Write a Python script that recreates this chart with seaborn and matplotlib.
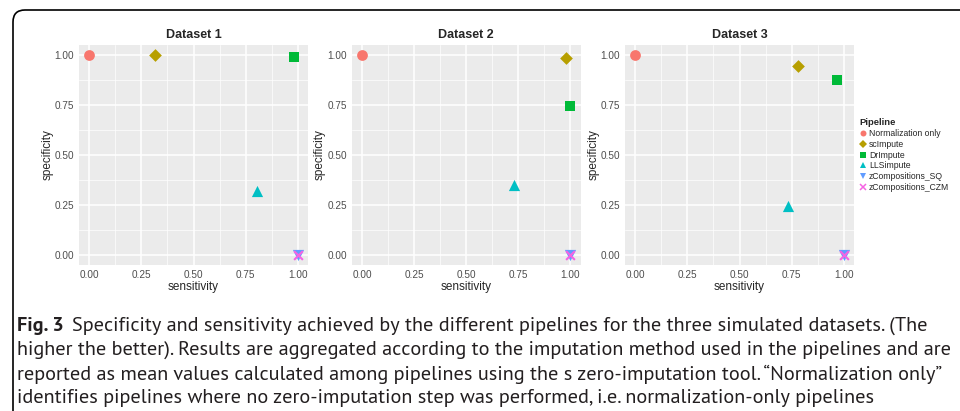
import pandas as pd
import matplotlib.pyplot as plt
import seaborn as sns
from matplotlib.patches import FancyBboxPatch
from matplotlib.lines import Line2D

# values
pipelines = ["Normalization only", "scImpute", "DrImpute", "LLSimpute",
             "zCompositions_SQ", "zCompositions_CZM"]
datasets = ["Dataset 1", "Dataset 2", "Dataset 3"]
sens_d1 = [0.0, 0.315, 0.984, 0.807, 1.0, 1.0]
spec_d1 = [1.0, 1.0, 0.99, 0.32, 0.0, 0.0]
sens_d2 = [0.0, 0.98, 0.997, 0.728, 1.0, 1.0]
spec_d2 = [1.0, 0.983, 0.747, 0.35, 0.0, 0.0]
sens_d3 = [0.0, 0.78, 0.969, 0.734, 1.0, 1.0]
spec_d3 = [1.0, 0.945, 0.876, 0.246, 0.0, 0.0]
ticks = [0.0, 0.25, 0.5, 0.75, 1.0]
tick_labels = ["0.00", "0.25", "0.50", "0.75", "1.00"]

colors = ["#F8766D", "#B79F00", "#00BA38", "#00BFC4", "#619CFF", "#F564E3"]
marks = ["o", "D", "s", "^", "v", "x"]
sizes = [60, 42, 55, 65, 65, 40]
palette = dict(zip(pipelines, colors))

frames = []
for name, sx, sy in zip(datasets, [sens_d1, sens_d2, sens_d3], [spec_d1, spec_d2, spec_d3]):
    frames.append(pd.DataFrame({"dataset": name, "Pipeline": pipelines,
                                "sensitivity": sx, "specificity": sy}))
df = pd.concat(frames, ignore_index=True)

sns.set_style("darkgrid", {"axes.facecolor": "#EBEBEB", "grid.color": "white"})
plt.rcParams["font.family"] = ["Liberation Sans", "DejaVu Sans"]

fig = plt.figure(figsize=(9.6, 4.11), dpi=100)
lefts = [79 / 960, 351.7 / 960, 625 / 960]
for i, name in enumerate(datasets):
    ax = fig.add_axes([lefts[i], 1 - 265 / 411, 229 / 960, 220 / 411])
    sub = df[df["dataset"] == name]
    for p, m, s in zip(pipelines, marks, sizes):
        row = sub[sub["Pipeline"] == p]
        sns.scatterplot(data=row, x="sensitivity", y="specificity", ax=ax,
                        color=palette[p], marker=m, s=s,
                        linewidth=1.5 if m == "x" else 0, legend=False, zorder=3)
    ax.set_xlim(-0.05, 1.05)
    ax.set_ylim(-0.05, 1.05)
    ax.set_xticks(ticks)
    ax.set_yticks(ticks)
    ax.set_xticklabels(tick_labels)
    ax.set_yticklabels(tick_labels)
    ax.set_xticks([0.125, 0.375, 0.625, 0.875], minor=True)
    ax.set_yticks([0.125, 0.375, 0.625, 0.875], minor=True)
    ax.grid(which="major", color="white", linewidth=1.1)
    ax.grid(which="minor", color="white", linewidth=0.5)
    ax.tick_params(which="major", length=2, width=0.6, color="#333333",
                   labelsize=7.2, labelcolor="#4D4D4D", pad=1.5)
    ax.tick_params(which="minor", length=0)
    for sp in ax.spines.values():
        sp.set_visible(False)
    ax.set_title(name, fontsize=9, fontweight="bold", pad=5)
    ax.set_xlabel("sensitivity", fontsize=8.5, labelpad=1)
    ax.set_ylabel("specificity", fontsize=8.5, labelpad=1)

handles = [Line2D([], [], linestyle="none", marker=m, color=c, markersize=4.3,
                  markeredgewidth=1.1 if m == "x" else 0, label=p)
           for p, c, m in zip(pipelines, colors, marks)]
leg = fig.legend(handles=handles, title="Pipeline", loc="upper left",
                 bbox_to_anchor=(856 / 960, 1 - 115 / 411), frameon=False,
                 fontsize=6.2, title_fontsize=6.8, handlelength=0.8,
                 handletextpad=0.3, labelspacing=0.2, borderaxespad=0)
leg.get_title().set_fontweight("bold")
leg._legend_box.align = "left"

# rounded border of the figure box
box = FancyBboxPatch((13, -60), 1100, 411 - 10 + 60,
                     boxstyle="round,pad=0,rounding_size=12",
                     transform=None, facecolor="none", edgecolor="black", linewidth=1.2)
fig.patches.append(box)

# caption
cap_font = ["PT Sans", "Fira Sans", "Liberation Sans"]
cap_color = "#231F20"
cap_size = 13
lab = fig.text(17 / 960, 1 - 326 / 411, "Fig. 3", fontsize=cap_size, fontweight="bold",
               family=cap_font, va="center", color=cap_color)
first = fig.text(67 / 960, 1 - 326 / 411,
                 "Specificity and sensitivity achieved by the different pipelines for the three simulated datasets. (The",
                 fontsize=cap_size, family=cap_font, va="center", color=cap_color)
cap_lines = [
    "higher the better). Results are aggregated according to the imputation method used in the pipelines and are",
    "reported as mean values calculated among pipelines using the s zero-imputation tool. \u201cNormalization only\u201d",
    "identifies pipelines where no zero-imputation step was performed, i.e. normalization-only pipelines",
]
rest = [fig.text(17 / 960, 1 - (350 + 24 * k) / 411, line, fontsize=cap_size,
                 family=cap_font, va="center", color=cap_color)
        for k, line in enumerate(cap_lines)]

# fit the caption size so the second line spans the same width as in the reference
fig.canvas.draw()
r = fig.canvas.get_renderer()
w = rest[0].get_window_extent(r).width
new_size = cap_size * (945 - 17) / w
for t in [lab, first] + rest:
    t.set_fontsize(new_size)
fig.canvas.draw()
lab_ext = lab.get_window_extent(r)
first.set_x((lab_ext.x1 + 8) / 960)

fig.savefig("out.png", dpi=100)
